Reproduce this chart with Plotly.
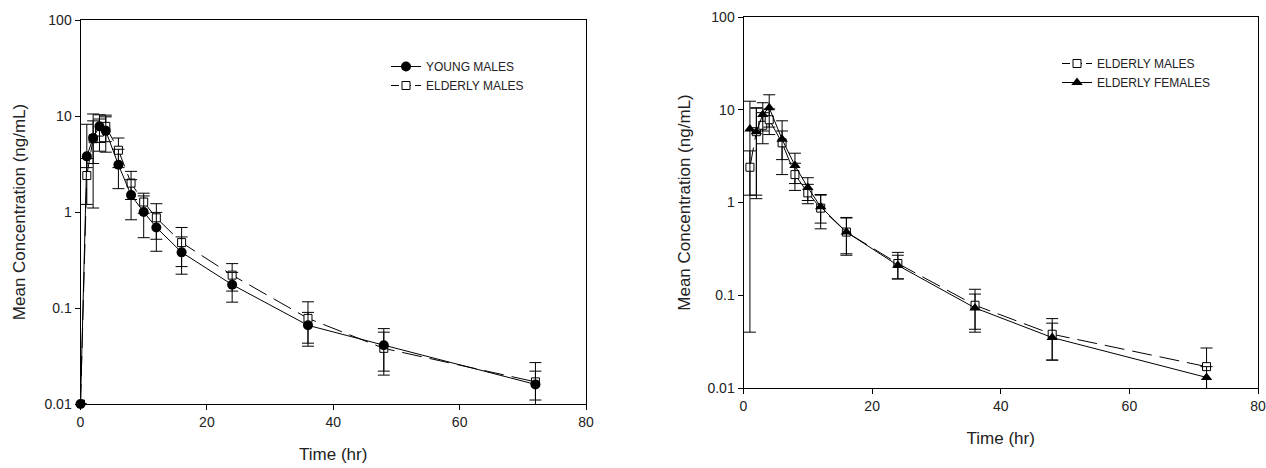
import plotly.graph_objects as go

# ---------------- data ----------------
time_young = [0, 1, 2, 3, 4, 6, 8, 10, 12, 16, 24, 36, 48, 72]
young_mean = [0.01, 3.8, 5.9, 7.8, 7.0, 3.1, 1.5, 1.0, 0.69, 0.38, 0.175, 0.066, 0.041, 0.016]
young_plus = [0, 4.4, 3.0, 2.5, 2.8, 1.4, 0.67, 0.47, 0.30, 0.17, 0.06, 0.024, 0.02, 0.006]
young_minus = [0, 0.9, 2.7, 2.5, 2.8, 1.35, 0.67, 0.46, 0.30, 0.155, 0.06, 0.023, 0.019, 0.005]

time_em_left = [0, 1, 2, 3, 4, 6, 8, 10, 12, 16, 24, 36, 48, 72]
time = [1, 2, 3, 4, 6, 8, 10, 12, 16, 24, 36, 48, 72]
em_mean = [2.4, 5.8, 6.8, 7.8, 4.4, 2.0, 1.27, 0.87, 0.48, 0.22, 0.078, 0.038, 0.017]
em_sd = [1.2, 4.7, 2.5, 2.4, 1.5, 0.65, 0.3, 0.35, 0.21, 0.07, 0.038, 0.018, 0.01]

ef_mean = [6.2, 5.8, 8.9, 10.5, 4.8, 2.5, 1.45, 0.9, 0.48, 0.21, 0.073, 0.035, 0.013]
ef_sd = [6.16, 4.6, 3.0, 4.0, 2.8, 0.9, 0.4, 0.3, 0.2, 0.06, 0.03, 0.015, 0.004]

y_ticks = [0.01, 0.1, 1, 10, 100]
y_ticktext = ["0.01", "0.1", "1", "10", "100"]
x_ticks = [0, 20, 40, 60, 80]

FONT = "Arial, Liberation Sans, sans-serif"
DASH = "20px,8px"
LEG_DASH = "8px,4px"

square_marker = dict(symbol="square", size=8, color="white", line=dict(color="black", width=1))
circle_marker = dict(symbol="circle", size=10, color="black")
tri_marker = dict(symbol="triangle-up", size=10, color="black")

fig = go.Figure()

# ---- left panel ----
fig.add_trace(go.Scatter(
    x=time_em_left, y=[0.01] + em_mean, showlegend=False, mode="lines+markers",
    line=dict(color="black", width=1, dash=DASH), marker=square_marker,
    error_y=dict(type="data", array=[0] + em_sd, arrayminus=[0] + em_sd,
                 color="black", thickness=1, width=6),
    xaxis="x", yaxis="y"))
fig.add_trace(go.Scatter(
    x=time_young, y=young_mean, showlegend=False, mode="lines+markers",
    line=dict(color="black", width=1), marker=circle_marker, cliponaxis=False,
    error_y=dict(type="data", array=young_plus, arrayminus=young_minus,
                 color="black", thickness=1, width=6),
    xaxis="x", yaxis="y"))
# legend entries (left)
fig.add_trace(go.Scatter(x=[None], y=[None], name="YOUNG MALES", legend="legend",
                         mode="lines+markers", line=dict(color="black", width=1),
                         marker=circle_marker, xaxis="x", yaxis="y"))
fig.add_trace(go.Scatter(x=[None], y=[None], name="ELDERLY MALES", legend="legend",
                         mode="lines+markers", line=dict(color="black", width=1, dash=LEG_DASH),
                         marker=square_marker, xaxis="x", yaxis="y"))

# ---- right panel ----
fig.add_trace(go.Scatter(
    x=time, y=em_mean, showlegend=False, mode="lines+markers",
    line=dict(color="black", width=1, dash=DASH), marker=square_marker,
    error_y=dict(type="data", array=em_sd, arrayminus=em_sd,
                 color="black", thickness=1, width=6),
    xaxis="x2", yaxis="y2"))
fig.add_trace(go.Scatter(
    x=time, y=ef_mean, showlegend=False, mode="lines+markers",
    line=dict(color="black", width=1), marker=tri_marker,
    error_y=dict(type="data", array=ef_sd, arrayminus=ef_sd,
                 color="black", thickness=1, width=6),
    xaxis="x2", yaxis="y2"))
# legend entries (right)
fig.add_trace(go.Scatter(x=[None], y=[None], name="ELDERLY MALES", legend="legend2",
                         mode="lines+markers", line=dict(color="black", width=1, dash=LEG_DASH),
                         marker=square_marker, xaxis="x2", yaxis="y2"))
fig.add_trace(go.Scatter(x=[None], y=[None], name="ELDERLY FEMALES", legend="legend2",
                         mode="lines+markers", line=dict(color="black", width=1),
                         marker=tri_marker, xaxis="x2", yaxis="y2"))

W, H = 1266, 468
def xd(a, b):
    return [a / W, b / W]
def yd(top, bottom):
    return [1 - bottom / H, 1 - top / H]

axis_common = dict(showline=True, linecolor="black", linewidth=1, mirror=True,
                   ticks="outside", ticklen=5, tickcolor="black", tickwidth=1,
                   showgrid=False, zeroline=False, automargin=False,
                   tickfont=dict(family=FONT, size=14, color="#222"))
TITLE_FONT = dict(family=FONT, size=17, color="#222")

fig.update_layout(
    width=W, height=H,
    margin=dict(l=0, r=0, t=0, b=0, autoexpand=False),
    paper_bgcolor="white", plot_bgcolor="white",
    font=dict(family=FONT, color="#222"),
    hovermode=False,
    xaxis=dict(domain=xd(80.5, 586), range=[0, 80], tickvals=x_ticks, anchor="y",
               title=dict(text="Time (hr)", font=TITLE_FONT, standoff=19),
               **axis_common),
    yaxis=dict(domain=yd(20, 404), type="log", range=[-2, 2], tickvals=y_ticks,
               ticktext=y_ticktext, anchor="x",
               title=dict(text="Mean Concentration (ng/mL)", font=TITLE_FONT, standoff=14),
               **axis_common),
    xaxis2=dict(domain=xd(743.5, 1258), range=[0, 80], tickvals=x_ticks, anchor="y2",
                title=dict(text="Time (hr)", font=TITLE_FONT, standoff=19),
                **axis_common),
    yaxis2=dict(domain=yd(17, 388), type="log", range=[-2, 2], tickvals=y_ticks,
                ticktext=y_ticktext, anchor="x2",
                title=dict(text="Mean Concentration (ng/mL)", font=TITLE_FONT, standoff=12),
                **axis_common),
    legend=dict(x=386 / W, y=1 - 52 / H, xanchor="left", yanchor="top",
                bgcolor="rgba(0,0,0,0)", font=dict(family=FONT, size=12, color="#222"),
                tracegroupgap=0, itemsizing="trace"),
    legend2=dict(x=1057 / W, y=1 - 49 / H, xanchor="left", yanchor="top",
                 bgcolor="rgba(0,0,0,0)", font=dict(family=FONT, size=12, color="#222"),
                 tracegroupgap=0, itemsizing="trace"),
)

fig.write_html("out.html", config={"displayModeBar": False},
               post_script="document.body.style.margin='0px';document.body.style.overflow='hidden';")
